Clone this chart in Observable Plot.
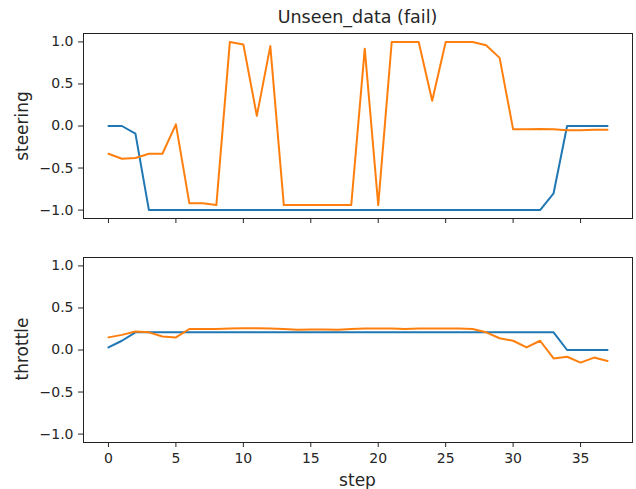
<!DOCTYPE html>
<html>
<head>
<meta charset="utf-8">
<script src="https://cdn.jsdelivr.net/npm/d3@7"></script>
<script src="https://cdn.jsdelivr.net/npm/@observablehq/plot@0.6"></script>
<style>
  html, body { margin: 0; padding: 0; background: #fff; }
  #wrap { position: relative; width: 636px; height: 489px; background: #fff; font-family: "DejaVu Sans", sans-serif; color: #262626; overflow: hidden; }
  .panel { position: absolute; left: 0; }
  .txt { position: absolute; white-space: nowrap; font-family: "DejaVu Sans", sans-serif; color: #262626; }
  .ylab { transform: translate(-50%, -50%) rotate(-90deg); font-size: 17px; }
</style>
</head>
<body>
<div id="wrap"></div>
<script>
const steps = [0,1,2,3,4,5,6,7,8,9,10,11,12,13,14,15,16,17,18,19,20,21,22,23,24,25,26,27,28,29,30,31,32,33,34,35,36,37];

const steeringBlue = [0, 0, -0.09, -1, -1, -1, -1, -1, -1, -1, -1, -1, -1, -1, -1, -1, -1, -1, -1, -1, -1, -1, -1, -1, -1, -1, -1, -1, -1, -1, -1, -1, -1, -0.80, 0, 0, 0, 0];
const steeringOrange = [-0.33, -0.39, -0.38, -0.33, -0.33, 0.02, -0.92, -0.92, -0.94, 1.0, 0.97, 0.12, 0.95, -0.94, -0.94, -0.94, -0.94, -0.94, -0.94, 0.92, -0.94, 1.0, 1.0, 1.0, 0.30, 1.0, 1.0, 1.0, 0.96, 0.81, -0.04, -0.04, -0.035, -0.04, -0.05, -0.05, -0.045, -0.045];

const throttleBlue = [0.03, 0.11, 0.21, 0.21, 0.21, 0.21, 0.21, 0.21, 0.21, 0.21, 0.21, 0.21, 0.21, 0.21, 0.21, 0.21, 0.21, 0.21, 0.21, 0.21, 0.21, 0.21, 0.21, 0.21, 0.21, 0.21, 0.21, 0.21, 0.21, 0.21, 0.21, 0.21, 0.21, 0.21, 0.0, 0.0, 0.0, 0.0];
const throttleOrange = [0.15, 0.18, 0.22, 0.21, 0.16, 0.15, 0.25, 0.25, 0.25, 0.255, 0.26, 0.26, 0.255, 0.25, 0.24, 0.245, 0.245, 0.24, 0.25, 0.255, 0.255, 0.255, 0.25, 0.255, 0.255, 0.255, 0.255, 0.25, 0.21, 0.14, 0.11, 0.03, 0.11, -0.10, -0.08, -0.15, -0.09, -0.13];

const xTicks = [0, 5, 10, 15, 20, 25, 30, 35];
const yTicks = [-1.0, -0.5, 0.0, 0.5, 1.0];
const titleText = "Unseen_data (fail)";
const xLabel = "step";
const yLabels = ["steering", "throttle"];

const blue = "#1f77b4";
const orange = "#ff7f0e";

function panel(a, b, showXLabels, height, mt, mb) {
  return Plot.plot({
    width: 636,
    height: height,
    marginLeft: 83,
    marginRight: 4,
    marginTop: mt,
    marginBottom: mb,
    style: { fontFamily: "DejaVu Sans, sans-serif", fontSize: "14px", color: "#262626", background: "#fff" },
    x: { domain: [-1.85, 38.85] },
    y: { domain: [-1.1, 1.1] },
    marks: [
      Plot.axisY({ ticks: yTicks, tickFormat: d3.format(".1f"), tickSize: 5, tickPadding: 5, label: null, fontSize: 14 }),
      Plot.axisX({ ticks: xTicks, tickFormat: showXLabels ? d => String(d) : () => "", tickSize: 5, tickPadding: 6, label: null, fontSize: 14 }),
      Plot.line(steps, { x: d => d, y: a, stroke: blue, strokeWidth: 2 }),
      Plot.line(steps, { x: d => d, y: b, stroke: orange, strokeWidth: 2 }),
      Plot.frame({ stroke: "#222", strokeWidth: 1 })
    ]
  });
}

const wrap = document.getElementById("wrap");

const topPanel = panel(steeringBlue, steeringOrange, false, 235, 33, 17);
topPanel.classList.add("panel");
topPanel.style.top = "0px";
wrap.appendChild(topPanel);

const bottomPanel = panel(throttleBlue, throttleOrange, true, 254, 22, 47);
bottomPanel.classList.add("panel");
bottomPanel.style.top = "235px";
wrap.appendChild(bottomPanel);

function addText(text, cls, left, topPx, extra) {
  const d = document.createElement("div");
  d.className = "txt " + cls;
  d.textContent = text;
  d.style.left = left + "px";
  d.style.top = topPx + "px";
  Object.assign(d.style, extra || {});
  wrap.appendChild(d);
  return d;
}

addText(titleText, "", 357.5, 17, { transform: "translate(-50%, -50%)", fontSize: "17.5px" });
addText(yLabels[0], "ylab", 22, 126);
addText(yLabels[1], "ylab", 22, 349);
addText(xLabel, "", 357.5, 480, { transform: "translate(-50%, -50%)", fontSize: "17px" });
</script>
</body>
</html>
